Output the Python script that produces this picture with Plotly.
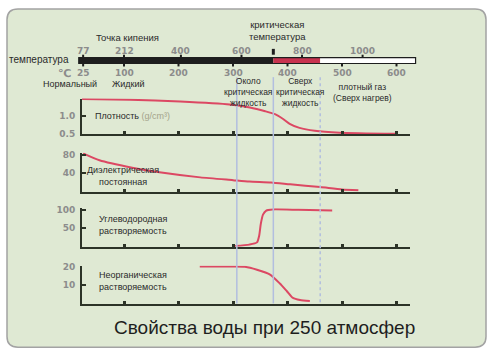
import plotly.graph_objects as go

W, H = 500, 364
PX0, K = 69.5, 0.545  # pixel position of 0 °C and pixels per °C (layout only)

# ---------------- data ----------------
temp_c_ticks = [25, 100, 200, 300, 400, 500, 600]
temp_f_ticks = [77, 212, 400, 600, 800, 1000]
critical_temp_c = 374
phase_bounds_c = [17, 374, 460, 635]          # black / red / white parts of the bar
region_lines_c = [307, 374, 460]

density_t = [23, 111, 203, 294, 331, 359, 377, 392, 404, 422, 450, 496, 599]
density_v = [1.45, 1.43, 1.38, 1.30, 1.22, 1.12, 1.04, 0.91, 0.78, 0.67, 0.59, 0.54, 0.51]

dielectric_t = [25, 55, 115, 165, 240, 300, 330, 370, 405, 460, 500, 530]
dielectric_v = [83, 68, 52, 42, 31, 25, 22, 20, 16, 10, 5, 3]

hydro_t = [304, 330, 344, 348, 351, 355, 361, 372, 420, 482]
hydro_v = [2, 6, 12, 30, 62, 87, 98, 101, 100, 98]

inorg_t = [239, 300, 322, 344, 368, 386, 399, 410, 423, 441]
inorg_v = [20.2, 20.2, 20, 18.4, 15.8, 11, 6.8, 3.2, 2.1, 1.6]

# ---------------- helpers ----------------
def py(p):
    return 1 - p / H

def px(p):
    return p / W

def f_to_c(f):
    return (f - 32) * 5 / 9

AX = "#2c3327"
CURVE = "#dc4863"
GRAY = "#8c8c8c"
FONT = "Liberation Sans"

fig = go.Figure()

# panels: (xaxis, yaxis, top px, bottom px, range, tickvals, ticktext, t, v)
panels = [
    ("x", "y", 97, 133.5, [0.5, 1.46], [0.5, 1.0, 1.46], ["0.5", "1.0", ""], density_t, density_v),
    ("x2", "y2", 152.6, 192.5, [0, 84], [40, 80], ["40", "80"], dielectric_t, dielectric_v),
    ("x3", "y3", 209.5, 249, [0, 104], [50, 100], ["50", "100"], hydro_t, hydro_v),
    ("x4", "y4", 268.5, 307.5, [0, 20.5], [10, 20], ["10", "20"], inorg_t, inorg_v),
]

xl, xr = 82, 410
xrange_panel = [(xl - PX0) / K, (xr - PX0) / K]

layout_axes = {}
for i, (xa, ya, top, bot, yr, tv, tt, t, v) in enumerate(panels):
    fig.add_trace(go.Scatter(x=t, y=v, xaxis=xa, yaxis=ya, mode="lines",
                             line=dict(color=CURVE, width=2, shape="spline", smoothing=0.6),
                             hoverinfo="skip", showlegend=False))
    xname = "xaxis" if xa == "x" else "xaxis" + xa[1:]
    yname = "yaxis" if ya == "y" else "yaxis" + ya[1:]
    layout_axes[xname] = dict(domain=[px(xl), px(xr)], range=xrange_panel, anchor=ya,
                              showline=True, linecolor=AX, linewidth=2, showgrid=False,
                              zeroline=False, ticks="inside", ticklen=3, tickwidth=3,
                              tickcolor=AX, tickvals=temp_c_ticks[1:], showticklabels=False,
                              fixedrange=True)
    layout_axes[yname] = dict(domain=[py(bot), py(top)], range=yr, anchor=xa,
                              showline=True, linecolor=AX, linewidth=2, showgrid=False,
                              zeroline=False, ticks="inside", ticklen=4, tickwidth=2,
                              tickcolor=AX, tickvals=tv, ticktext=tt,
                              tickfont=dict(family="DejaVu Sans", size=9, color=GRAY,
                                            weight="bold"),
                              ticklabelstandoff=3, fixedrange=True)

# overlay axis spanning the whole figure: x in °C, y in pixels
layout_axes["xaxis5"] = dict(domain=[0, 1], range=[(0 - PX0) / K, (W - PX0) / K],
                             anchor="y5", visible=False, fixedrange=True)
layout_axes["yaxis5"] = dict(domain=[0, 1], range=[H, 0], anchor="x5",
                             visible=False, fixedrange=True)

# bar tick marks
c_x, c_y, f_x, f_y = [], [], [], []
for c in temp_c_ticks:
    c_x += [c, c, None]
    c_y += [58, 64, None]
for f in temp_f_ticks:
    c = f_to_c(f)
    f_x += [c, c, None]
    f_y += [52, 58, None]

shapes = []
# background card
x0, x1, y0, y1, r = 7, 486, 5, 352, 11
path = (f"M {px(x0 + r)} {py(y0)} L {px(x1 - r)} {py(y0)} Q {px(x1)} {py(y0)} {px(x1)} {py(y0 + r)} "
        f"L {px(x1)} {py(y1 - r)} Q {px(x1)} {py(y1)} {px(x1 - r)} {py(y1)} "
        f"L {px(x0 + r)} {py(y1)} Q {px(x0)} {py(y1)} {px(x0)} {py(y1 - r)} "
        f"L {px(x0)} {py(y0 + r)} Q {px(x0)} {py(y0)} {px(x0 + r)} {py(y0)} Z")
shapes.append(dict(type="path", path=path, xref="paper", yref="paper", layer="below",
                   fillcolor="#dfe9d3", line=dict(color="#a3a3a3", width=1.5)))

# temperature bar segments
bar_colors = ["#1e1e1e", "#c8334f", "#ffffff"]
for i in range(3):
    shapes.append(dict(type="rect", xref="x5", yref="y5",
                       x0=phase_bounds_c[i], x1=phase_bounds_c[i + 1], y0=55, y1=61,
                       fillcolor=bar_colors[i], line=dict(width=0), layer="above"))
shapes.append(dict(type="rect", xref="x5", yref="y5", x0=phase_bounds_c[0], x1=phase_bounds_c[-1],
                   y0=55, y1=61, line=dict(color="#1e1e1e", width=1.2), layer="above"))
# critical temperature mark
shapes.append(dict(type="line", xref="x5", yref="y5", x0=critical_temp_c, x1=critical_temp_c,
                   y0=46, y1=52, line=dict(color="#1e1e1e", width=3)))
# region lines
styles = ["solid", "solid", "dot"]
for c, s in zip(region_lines_c, styles):
    shapes.append(dict(type="line", xref="x5", yref="y5", x0=c, x1=c, y0=75, y1=307,
                       line=dict(color="#b2bedf", width=1.5, dash=s), layer="below"))

fig.add_trace(go.Scatter(x=c_x, y=c_y, xaxis="x5", yaxis="y5", mode="lines",
                         line=dict(color="#1e1e1e", width=2), hoverinfo="skip", showlegend=False))
fig.add_trace(go.Scatter(x=f_x, y=f_y, xaxis="x5", yaxis="y5", mode="lines",
                         line=dict(color="#1e1e1e", width=2), hoverinfo="skip", showlegend=False))

ann = []
def txt(x, y, s, size=9, color="#2a2a2a", xanchor="center", align="center", family=FONT, **kw):
    ann.append(dict(x=px(x), y=py(y), xref="paper", yref="paper", text=s, showarrow=False,
                    xanchor=xanchor, yanchor="middle", align=align,
                    font=dict(family=family, size=size, color=color, **kw)))

# tick labels of the temperature bar
for c in temp_c_ticks:
    ann.append(dict(x=c, y=71, xref="x5", yref="y5", text=str(c), showarrow=False,
                    xanchor="center", yanchor="middle",
                    font=dict(family="DejaVu Sans", size=9, color=GRAY, weight="bold")))
for f in temp_f_ticks:
    ann.append(dict(x=f_to_c(f), y=48, xref="x5", yref="y5", text=str(f), showarrow=False,
                    xanchor="center", yanchor="middle",
                    font=dict(family="DejaVu Sans", size=9, color=GRAY, weight="bold")))

txt(71, 57, "температура", size=10, xanchor="right")
txt(64, 71, "℃", size=11, color=GRAY, family="DejaVu Sans", weight="bold")
txt(127, 34, "Точка кипения", size=9.5)
txt(277, 27, "критическая<br>температура", size=9.5)
txt(70, 82, "Нормальный", size=9)
txt(128, 82, "Жидкий", size=9)
txt(248, 90, "Около<br>критическая<br>жидкость", size=8.5)
txt(300, 90, "Сверх<br>критическая<br>жидкость", size=8.5)
txt(362, 91, "плотный газ<br>(Сверх нагрев)", size=8.5)

txt(93, 115, "Плотность <span style='color:#a3a38a'>(g/cm³)</span>", size=9, xanchor="left")
txt(123, 176, "Диэлектрическая<br>постоянная", size=9)
txt(97, 227, "Углеводородная<br>растворяемость", size=9, xanchor="left", align="left")
txt(97, 284, "Неорганическая<br>растворяемость", size=9, xanchor="left", align="left")

txt(264, 332, "Свойства воды при 250 атмосфер", size=19, color="#1e1e1e")

fig.update_layout(width=W, height=H, margin=dict(l=0, r=0, t=0, b=0), autosize=False,
                  paper_bgcolor="white", plot_bgcolor="rgba(0,0,0,0)",
                  shapes=shapes, annotations=ann, showlegend=False, **layout_axes)

fig.write_html("out.html", config={"displayModeBar": False},
               post_script="document.body.style.margin='0';document.body.style.overflow='hidden';")
